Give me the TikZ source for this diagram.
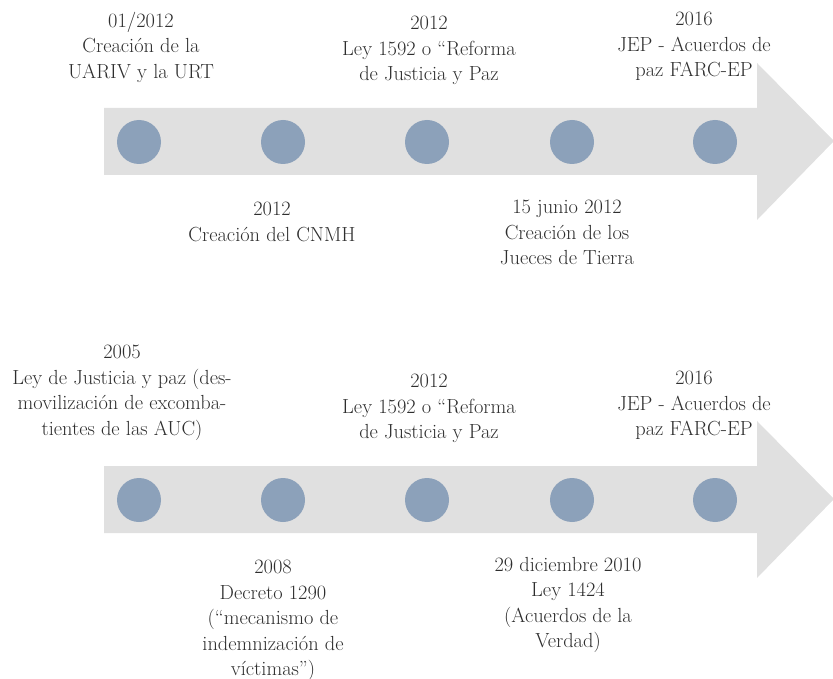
\documentclass[tikz,border=0pt]{standalone}
\definecolor{arrowgray}{HTML}{E0E0E0}
\definecolor{dotblue}{HTML}{8CA1BA}
\definecolor{txtgray}{HTML}{2E2E2E}
\begin{document}
\begin{tikzpicture}[x=1pt,y=-1pt,
		dot/.style={circle,fill=dotblue,minimum size=44pt,inner sep=0pt},
		lbl/.style={anchor=north,align=center,inner sep=0pt,text=txtgray,font=\fontsize{20.4}{25.5}\selectfont}]
			\useasboundingbox (0,0) rectangle (833,679);
			
			\fill[arrowgray] (104,108) -- (757,108) -- (757,63) -- (834,141) -- (757,220) -- (757,175) -- (104,175) -- cycle;
			\fill[arrowgray] (104,466) -- (757,466) -- (757,421) -- (834,499) -- (757,578) -- (757,533) -- (104,533) -- cycle;
			
			\node[dot] (a1) at (139,142) {};
			\node[dot] (a2) at (283,142) {};
			\node[dot] (a3) at (427,142) {};
			\node[dot] (a4) at (572,142) {};
			\node[dot] (a5) at (715,142) {};
			
			\node[dot] (b1) at (139,500) {};
			\node[dot] (b2) at (283,500) {};
			\node[dot] (b3) at (427,500) {};
			\node[dot] (b4) at (572,500) {};
			\node[dot] (b5) at (715,500) {};
			
			\node[lbl] (ta1) at (141,12) {01/2012\\Creación de la\\UARIV y la URT};
			\node[lbl] (ta2) at (272,202) {2012\\Creación del CNMH};
			\node[lbl] (ta3) at (429,16) {2012\\Ley 1592 o “Reforma\\de Justicia y Paz};
			\node[lbl] (ta4) at (567,200) {15 junio 2012\\Creación de los\\Jueces de Tierra};
			\node[lbl] (ta5) at (694,12) {2016\\JEP - Acuerdos de\\paz FARC-EP};
			
			\node[lbl] (tb1) at (122,345) {2005\\Ley de Justicia y paz (des-\\movilización de excomba-\\tientes de las AUC)};
			\node[lbl] (tb2) at (273,560) {2008\\Decreto 1290\\(“mecanismo de\\indemnización de\\víctimas”)};
			\node[lbl] (tb3) at (429,374) {2012\\Ley 1592 o “Reforma\\de Justicia y Paz};
			\node[lbl] (tb4) at (568,557) {29 diciembre 2010\\Ley 1424\\(Acuerdos de la\\Verdad)};
			\node[lbl] (tb5) at (694,371) {2016\\JEP - Acuerdos de\\paz FARC-EP};
		\end{tikzpicture}
\end{document}
